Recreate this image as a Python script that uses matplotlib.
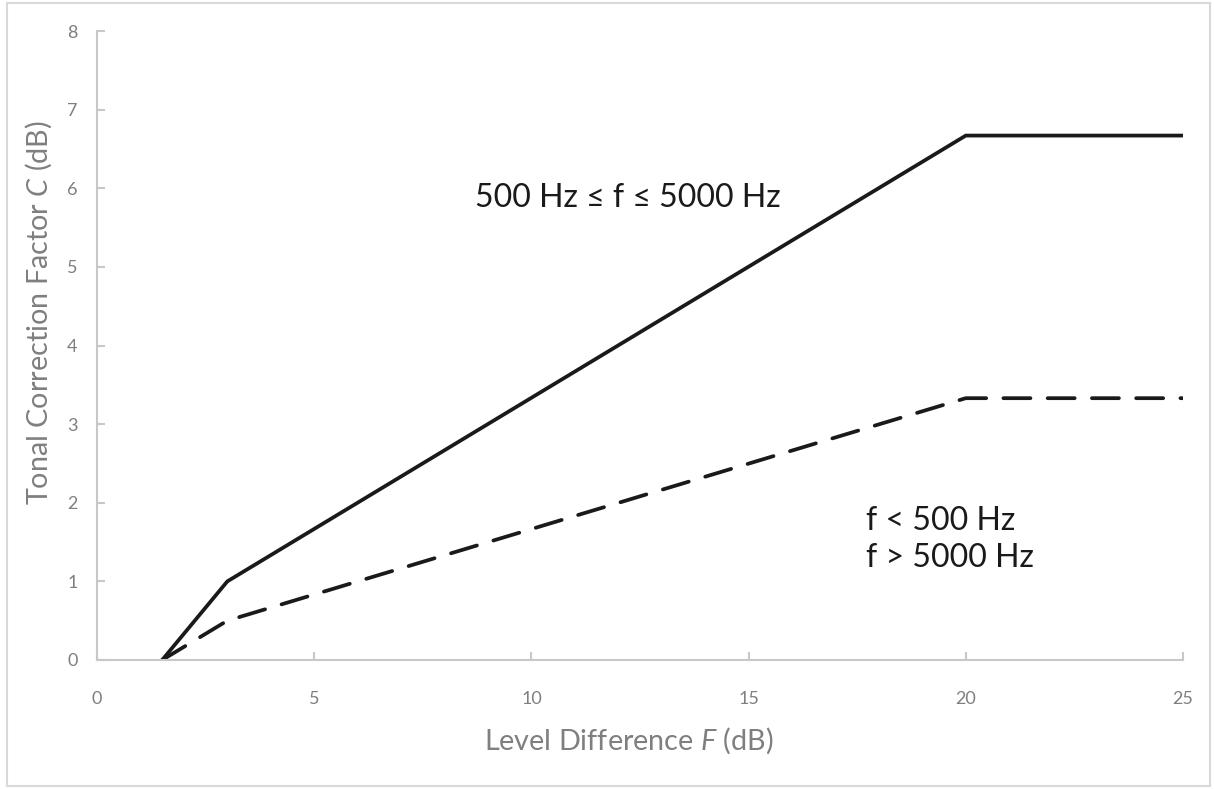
import matplotlib
matplotlib.use('Agg')
import matplotlib.pyplot as plt
from matplotlib.patches import Rectangle

plt.rcParams['font.family'] = ['Lato', 'DejaVu Sans']
plt.rcParams['mathtext.fontset'] = 'custom'
plt.rcParams['mathtext.rm'] = 'Lato'
plt.rcParams['mathtext.it'] = 'Lato:italic'

# data
F_mid = [1.5, 3, 20, 25]
C_mid = [0, 1, 6.67, 6.67]
F_out = [1.5, 3, 20, 25]
C_out = [0, 0.5, 3.33, 3.33]
xticks = [0, 5, 10, 15, 20, 25]
yticks = [0, 1, 2, 3, 4, 5, 6, 7, 8]

grey = '#7f7f7f'
axcol = '#c8c8c8'
ink = '#1a1a1a'

fig = plt.figure(figsize=(12.14, 7.89), dpi=100)
ax = fig.add_axes([97/1214, 129/789, 1086/1214, 629/789])

ax.plot(F_mid, C_mid, color=ink, lw=2.7, solid_joinstyle='miter')
ax.plot(F_out, C_out, color=ink, lw=2.7, dashes=(7.2, 4.6), dash_capstyle='round')

ax.set_xlim(0, 25)
ax.set_ylim(0, 8)
ax.set_xticks(xticks)
ax.set_yticks(yticks)
for s in ['top', 'right']:
    ax.spines[s].set_visible(False)
for s in ['left', 'bottom']:
    ax.spines[s].set_color(axcol)
    ax.spines[s].set_linewidth(1.5)
ax.tick_params(direction='in', length=6, width=1.5, color=axcol,
               labelcolor=grey, labelsize=13)
ax.tick_params(axis='x', pad=22)
ax.tick_params(axis='y', pad=14)

# axis titles
ax.set_xlabel('Level Difference $\\it{F}$ (dB)', fontsize=20.7, color=grey)
ax.set_ylabel('Tonal Correction Factor $\\it{C}$ (dB)', fontsize=20.7, color=grey)
ax.xaxis.set_label_coords(0.49, -0.104)
ax.yaxis.set_label_coords(-0.04, 0.553)

# curve labels
ax.text(12.22, 5.87, '500 Hz ≤ f ≤ 5000 Hz', fontsize=23, color=ink, ha='center', va='center')
ax.text(17.7, 1.53, 'f < 500 Hz\nf > 5000 Hz', fontsize=23, color=ink,
        ha='left', va='center', linespacing=1.28)

# chart-area border
fig.patches.append(Rectangle((7/1214, 3/789), 1203/1214, 783/789, transform=fig.transFigure,
                             fill=False, edgecolor='#d9d9d9', lw=1.5))

fig.savefig('out.png', dpi=100)
